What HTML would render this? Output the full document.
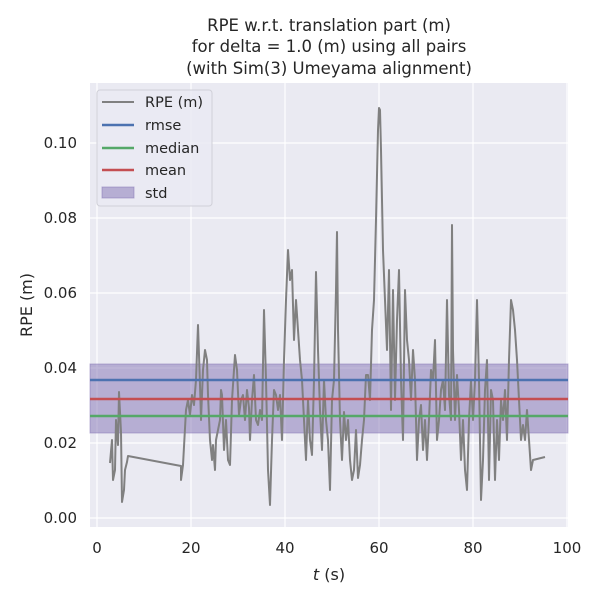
<!DOCTYPE html>
<html><head><meta charset="utf-8"><style>body{margin:0;background:#fff}</style></head><body>
<svg width="600" height="600" xmlns="http://www.w3.org/2000/svg" font-family="DejaVu Sans, Liberation Sans, sans-serif">
<rect x="0" y="0" width="600" height="600" fill="#fff"/>
<rect x="90" y="83" width="478" height="444" fill="#eaeaf2"/>
<g stroke="#fff" stroke-width="1.2">
<line x1="97" y1="83" x2="97" y2="527"/><line x1="191" y1="83" x2="191" y2="527"/><line x1="285" y1="83" x2="285" y2="527"/><line x1="379" y1="83" x2="379" y2="527"/><line x1="473" y1="83" x2="473" y2="527"/><line x1="567" y1="83" x2="567" y2="527"/>
<line x1="90" y1="518" x2="568" y2="518"/><line x1="90" y1="443" x2="568" y2="443"/><line x1="90" y1="368" x2="568" y2="368"/><line x1="90" y1="293" x2="568" y2="293"/><line x1="90" y1="218" x2="568" y2="218"/><line x1="90" y1="143" x2="568" y2="143"/>
</g>
<rect x="90" y="364" width="478" height="69" fill="#8172b3" fill-opacity="0.5" stroke="#8172b3" stroke-opacity="0.5"/>
<polyline fill="none" stroke="#808080" stroke-width="2" stroke-linejoin="round" points="110,463 112,440 113,480 115,470 116,420 118,445 119,392 121,432 122,502 124,490 125,470 127,462 128,456 181,466 181,480 183,465 186,410 188,400 190,415 192,395 194,405 196,380 198,325 200,385 201,420 203,370 205,350 207,360 208,395 210,440 212,460 213,445 215,470 216,440 218,430 220,420 221,390 222,395 224,450 226,420 228,460 230,465 232,400 235,355 237,370 239,415 241,400 243,395 245,420 247,390 249,408 250,440 252,400 254,375 256,420 258,425 260,410 262,420 264,310 266,380 268,470 270,505 272,440 274,390 276,395 278,410 280,395 282,440 284,360 286,300 288,250 290,280 292,270 294,340 296,300 298,330 300,360 302,380 304,420 306,460 308,400 310,440 312,455 314,380 316,272 318,350 320,410 322,450 324,380 326,420 328,440 330,490 332,400 334,380 336,290 337,232 338,330 340,420 342,460 344,412 346,440 348,420 350,460 352,480 354,470 356,430 358,478 360,465 362,440 364,420 366,375 368,375 370,400 372,330 374,300 376,220 378,130 379,108 380,110 381,150 383,250 385,300 387,350 389,270 391,410 393,290 395,400 397,320 399,270 401,380 403,440 405,290 407,340 409,360 411,400 413,350 415,380 417,460 419,420 421,405 423,450 425,420 427,460 429,420 431,370 433,380 435,340 437,440 439,420 441,390 443,380 445,410 447,300 449,395 451,420 452,225 453,350 455,420 457,375 459,410 461,460 463,420 465,470 467,490 469,420 471,380 473,420 475,380 477,300 479,380 481,500 483,460 485,390 487,360 489,480 491,390 493,400 495,480 497,420 499,460 501,400 503,420 505,390 507,440 509,360 511,300 513,310 515,330 517,360 519,400 521,440 523,425 525,440 527,410 529,440 531,470 533,460 545,457"/>
<line x1="90" y1="380" x2="568" y2="380" stroke="#4c72b0" stroke-width="2.5"/>
<line x1="90" y1="399" x2="568" y2="399" stroke="#c44e52" stroke-width="2.5"/>
<line x1="90" y1="416" x2="568" y2="416" stroke="#55a868" stroke-width="2.5"/>
<g>
<rect x="97" y="90" width="115" height="116" rx="3" fill="#eaeaf2" fill-opacity="0.8" stroke="#d0d0d8"/>
<line x1="102" y1="102" x2="134" y2="102" stroke="#808080" stroke-width="2"/>
<line x1="102" y1="125" x2="134" y2="125" stroke="#4c72b0" stroke-width="2.5"/>
<line x1="102" y1="148" x2="134" y2="148" stroke="#55a868" stroke-width="2.5"/>
<line x1="102" y1="170" x2="134" y2="170" stroke="#c44e52" stroke-width="2.5"/>
<rect x="102" y="187" width="32" height="11" fill="#8172b3" fill-opacity="0.5" stroke="#8172b3" stroke-opacity="0.5"/>
<g font-size="14.5" fill="#262626">
<text x="145" y="107">RPE (m)</text><text x="145" y="130">rmse</text><text x="145" y="153">median</text><text x="145" y="175">mean</text><text x="145" y="198">std</text>
</g></g>
<g font-size="15" fill="#262626" text-anchor="end">
<text x="77" y="523">0.00</text><text x="77" y="448">0.02</text><text x="77" y="373">0.04</text><text x="77" y="298">0.06</text><text x="77" y="223">0.08</text><text x="77" y="148">0.10</text>
</g>
<g font-size="15" fill="#262626" text-anchor="middle">
<text x="97" y="553">0</text><text x="191" y="553">20</text><text x="285" y="553">40</text><text x="379" y="553">60</text><text x="473" y="553">80</text><text x="567" y="553">100</text>
<text x="329" y="580" font-size="16"><tspan font-style="italic">t</tspan> (s)</text>
<text x="329" y="31" font-size="16.5">RPE w.r.t. translation part (m)</text>
<text x="329" y="52" font-size="16.5">for delta = 1.0 (m) using all pairs</text>
<text x="329" y="74" font-size="16.5">(with Sim(3) Umeyama alignment)</text>
<text transform="translate(32,305) rotate(-90)" font-size="16">RPE (m)</text>
</g>
</svg>
</body></html>
